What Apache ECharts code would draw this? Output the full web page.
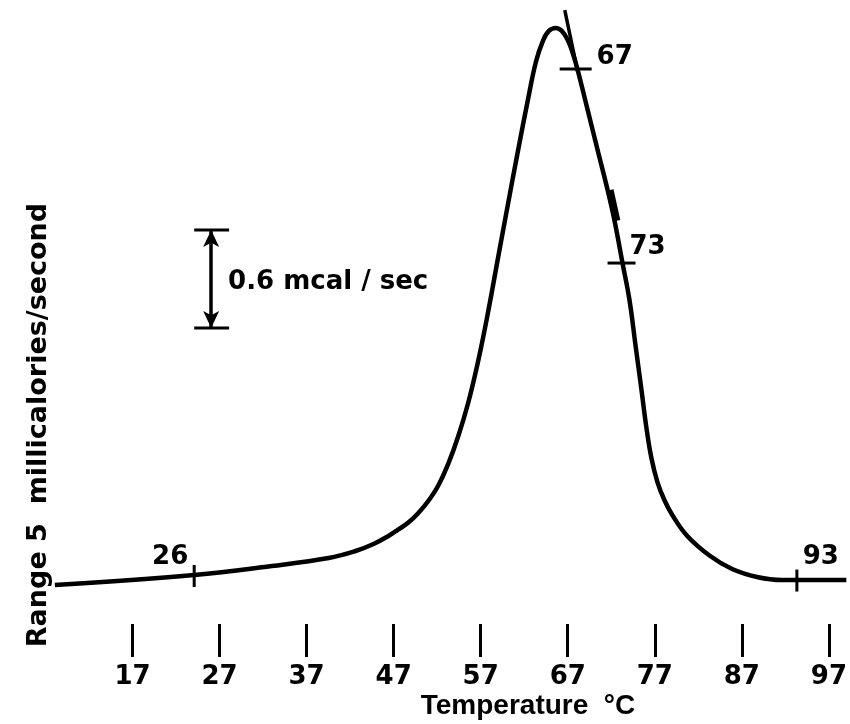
<!DOCTYPE html>
<html>
<head>
<meta charset="utf-8">
<script src="https://cdn.jsdelivr.net/npm/echarts@6/dist/echarts.min.js"></script>
<style>
  html, body { margin: 0; padding: 0; background: #fff; }
  #main { width: 850px; height: 724px; }
</style>
</head>
<body>
<div id="main"></div>
<script>
// thermogram trace, temperature (°C) vs heat flow (mcal/sec above the tick row)
var temps = [8.08, 24.09, 33.02, 39.54, 42.63, 44.69, 46.41, 47.55, 48.69, 49.84, 50.98, 52.13,
  53.27, 54.41, 55.56, 56.7, 57.85, 58.99, 60.14, 61.28, 62.42, 63.34, 64.14, 64.83, 65.63,
  66.31, 67.0, 67.57, 68.14, 69.29, 70.43, 71.58, 72.38, 73.29, 74.09, 74.78, 75.47, 76.04,
  76.61, 77.3, 78.1, 79.01, 80.73, 83.36, 85.88, 88.74, 91.6, 93.32, 99.0];
var signal = [0.441, 0.502, 0.557, 0.606, 0.649, 0.692, 0.741, 0.781, 0.823, 0.882, 0.955, 1.05,
  1.182, 1.35, 1.555, 1.809, 2.112, 2.443, 2.774, 3.098, 3.41, 3.643, 3.771, 3.833, 3.851,
  3.833, 3.778, 3.698, 3.594, 3.349, 3.104, 2.859, 2.669, 2.412, 2.186, 1.91, 1.635, 1.402,
  1.218, 1.071, 0.961, 0.869, 0.741, 0.618, 0.539, 0.49, 0.471, 0.471, 0.471];

// hand drawn tangent on the descending side
var tangentTemps = [66.66, 68.14];
var tangentSignal = [3.961, 3.582];
var inkTemps = [71.92, 72.7];
var inkSignal = [2.86, 2.672];

// temperature marks drawn on the trace
var markerTemps = [24.09, 67.91, 73.18, 93.32];
var markerSignal = [0.496, 3.6, 2.412, 0.468];
var markerText = ['26', '67', '73', '93'];

// 0.6 mcal/sec scale bar
var barTemp = 26.04;
var barLow = 2.014;
var barHigh = 2.614;
var capTemps = [24.09, 28.1];
var barText = '0.6 mcal / sec';

var tickTemps = [17, 27, 37, 47, 57, 67, 77, 87, 97];

var yTitle = 'Range 5  millicalories/second';
var xTitle = 'Temperature  °C';

function pairs(xs, ys) {
  return xs.map(function (x, i) { return [x, ys[i]]; });
}

// marker look: vertical or horizontal stroke and where its number sits
var markerStyle = [
  { size: [3, 22], offset: [-24, -19] },
  { size: [32, 3], offset: [39, -12] },
  { size: [28, 3], offset: [26, -16] },
  { size: [3, 22], offset: [24, -23] }
];

var numFont = '"DejaVu Sans", sans-serif';

var chart = echarts.init(document.getElementById('main'));

chart.setOption({
  animation: false,
  backgroundColor: '#fff',
  grid: { left: 0, right: 0, top: 3.67, bottom: 67 },
  xAxis: {
    type: 'value',
    min: 1.783,
    max: 99.04,
    splitLine: { show: false },
    axisLine: { show: false },
    axisTick: {
      show: true,
      inside: true,
      length: 33,
      customValues: tickTemps,
      lineStyle: { color: '#000', width: 3 }
    },
    axisLabel: {
      show: true,
      customValues: tickTemps,
      margin: 7,
      color: '#000',
      fontSize: 26,
      fontWeight: 'bold',
      fontFamily: numFont
    }
  },
  yAxis: { type: 'value', min: 0, max: 4, show: false },
  graphic: [
    {
      type: 'text',
      x: 39, y: 425,
      rotation: Math.PI / 2,
      style: {
        text: yTitle,
        fill: '#000',
        font: 'bold 27px "DejaVu Sans", sans-serif',
        textAlign: 'center',
        textVerticalAlign: 'middle'
      }
    },
    {
      type: 'text',
      x: 528, y: 706,
      style: {
        text: xTitle,
        fill: '#000',
        font: 'bold 28px "Liberation Sans Narrow", "Liberation Sans", sans-serif',
        textAlign: 'center',
        textVerticalAlign: 'middle'
      }
    }
  ],
  series: [
    {
      type: 'line',
      data: pairs(temps, signal),
      smooth: 0.4,
      symbol: 'none',
      lineStyle: { color: '#000', width: 4.5 }
    },
    {
      type: 'line',
      data: pairs(tangentTemps, tangentSignal),
      symbol: 'none',
      lineStyle: { color: '#000', width: 3.5 }
    },
    {
      type: 'line',
      data: pairs(inkTemps, inkSignal),
      symbol: 'none',
      lineStyle: { color: '#000', width: 6 }
    },
    {
      type: 'scatter',
      symbol: 'rect',
      itemStyle: { color: '#000', opacity: 1 },
      data: markerTemps.map(function (t, i) {
        return {
          value: [t, markerSignal[i]],
          symbolSize: markerStyle[i].size,
          label: {
            show: true,
            position: 'inside',
            offset: markerStyle[i].offset,
            formatter: markerText[i],
            color: '#000',
            fontSize: 26,
            fontWeight: 'bold',
            fontFamily: numFont
          }
        };
      })
    },
    {
      type: 'line',
      data: pairs(capTemps, [barHigh, barHigh]),
      symbol: 'none',
      lineStyle: { color: '#000', width: 3 },
      markLine: {
        silent: true,
        symbol: ['arrow', 'arrow'],
        symbolSize: [12, 17],
        label: { show: false },
        lineStyle: { color: '#000', width: 3.5, type: 'solid' },
        data: [[{ coord: [barTemp, barHigh] }, { coord: [barTemp, barLow] }]]
      }
    },
    {
      type: 'line',
      data: pairs(capTemps, [barLow, barLow]),
      symbol: 'none',
      lineStyle: { color: '#000', width: 3 }
    },
    {
      type: 'scatter',
      symbolSize: 1,
      itemStyle: { color: 'transparent', opacity: 1 },
      data: [{
        value: [barTemp, (barLow + barHigh) / 2],
        label: {
          show: true,
          position: 'inside',
          offset: [117, 3],
          formatter: barText,
          color: '#000',
          fontSize: 26,
          fontWeight: 'bold',
          fontFamily: numFont
        }
      }]
    }
  ]
});
</script>
</body>
</html>
